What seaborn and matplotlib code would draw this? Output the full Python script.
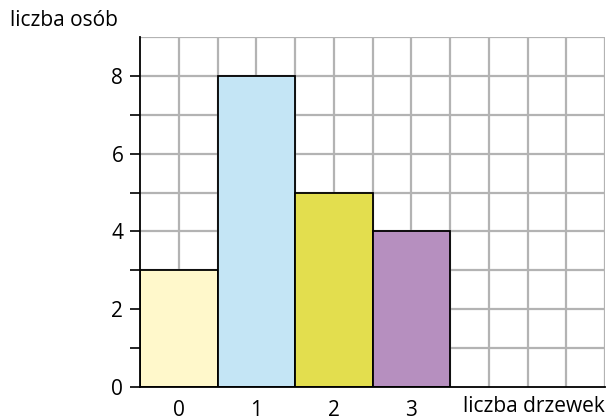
import matplotlib
matplotlib.use("Agg")
import matplotlib.pyplot as plt
import matplotlib.transforms as mtransforms
import seaborn as sns
import numpy as np
import pandas as pd

categories = ["0", "1", "2", "3"]
counts = [3, 8, 5, 4]
colors = ["#FFF8CB", "#C4E5F5", "#E3DE4E", "#B68FBF"]
y_major = [0, 2, 4, 6, 8]
y_minor = [1, 3, 5, 7]

sns.set_theme(style="white")
plt.rcParams['font.family'] = ['Open Sans', 'DejaVu Sans']
plt.rcParams['text.color'] = 'black'
plt.rcParams['xtick.color'] = 'black'
plt.rcParams['ytick.color'] = 'black'
plt.rcParams['xtick.labelcolor'] = 'black'
plt.rcParams['ytick.labelcolor'] = 'black'

fig = plt.figure(figsize=(6.15, 4.2), dpi=100)
ax = fig.add_axes([140/615, 33/420, 465/615, 350/420])

df = pd.DataFrame({"x": categories, "y": counts})
sns.barplot(data=df, x="x", y="y", hue="x", palette=colors, legend=False,
            width=1.0, edgecolor="black", linewidth=1.3, saturation=1, ax=ax, zorder=3)

ax.set_xlim(-0.5, 5.5)
ax.set_ylim(0, 9)
grid_x = np.arange(-0.5, 5.51, 0.5)
grid_y = np.arange(1, 10, 1)
ax.vlines(grid_x[1:], 0, 9, colors="#B3B3B3", linewidth=1.6, zorder=1)
ax.hlines(grid_y, -0.5, 5.5, colors="#B3B3B3", linewidth=1.6, zorder=1)

for s in ["top", "right"]:
    ax.spines[s].set_visible(False)
for s in ["left", "bottom"]:
    ax.spines[s].set_color("black")
    ax.spines[s].set_linewidth(1.3)
    ax.spines[s].set_zorder(4)

ax.set_yticks(y_major)
ax.set_yticks(y_minor, minor=True)
ax.set_yticklabels([str(v) for v in y_major])
ax.tick_params(axis="y", which="both", left=True, length=7, width=1.2, color="black",
               labelsize=15, pad=5, labelcolor="black")
ax.tick_params(axis="x", bottom=False, labelsize=15, pad=3, labelcolor="black")
ax.set_xlabel("")
ax.set_ylabel("")

fig.text(10/615, 1 - 20/420, "liczba osób", fontsize=15, ha="left", va="center", color="black")
trans = mtransforms.blended_transform_factory(ax.transData, fig.transFigure)
ax.text(5.5, 1 - 407/420, "liczba drzewek", fontsize=15, ha="right", va="center",
        color="black", transform=trans)

fig.savefig("out.png", dpi=100)
